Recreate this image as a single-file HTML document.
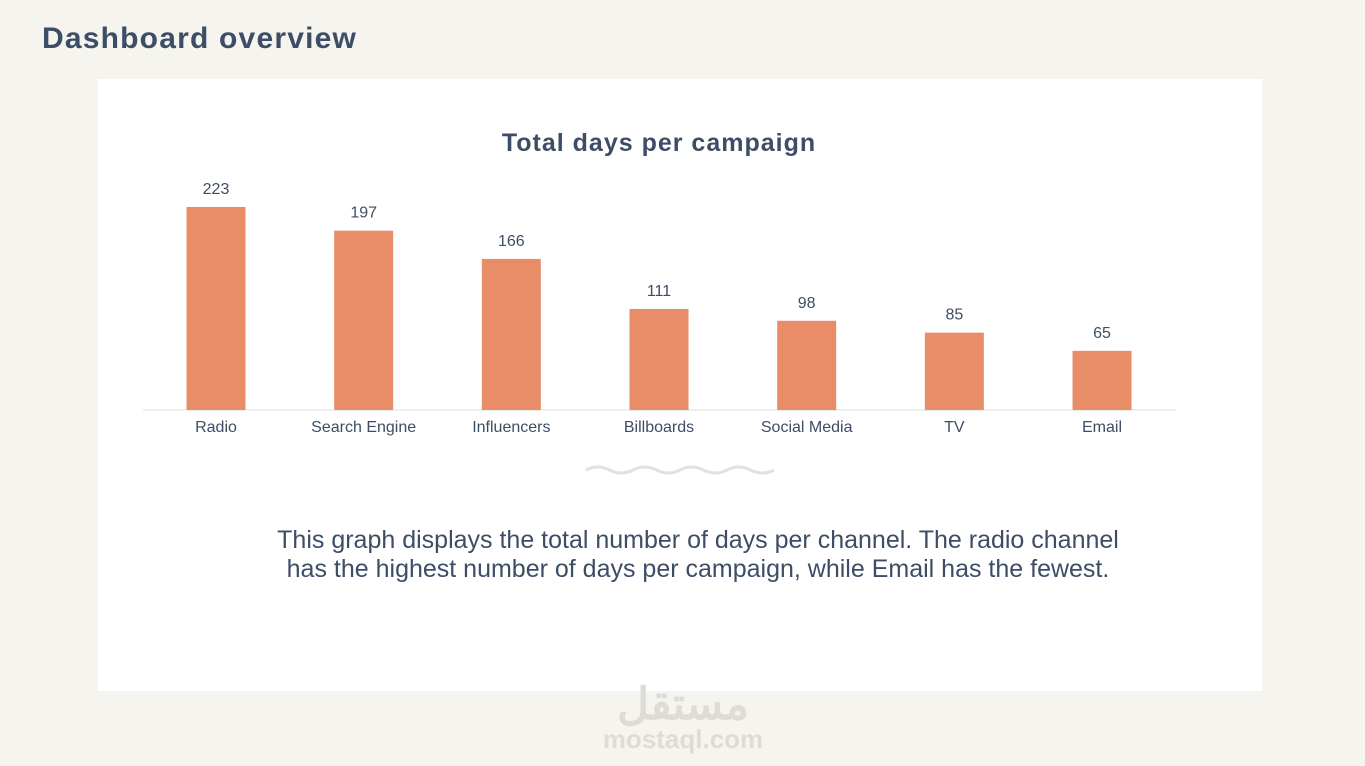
<!DOCTYPE html>
<html><head><meta charset="utf-8"><style>
body{margin:0;width:1365px;height:766px;background:#f5f4ef;font-family:"Liberation Sans",sans-serif;position:relative;overflow:hidden}
.h1{position:absolute;left:42px;top:22px;font-size:30px;font-weight:bold;color:#3d4d66;letter-spacing:1.2px}
.card{position:absolute;left:98px;top:79px;width:1164px;height:612px;background:#fff}
.desc{position:absolute;top:526px;text-align:center;font-size:25px;line-height:29px;color:#3d4d66}
.wm{position:absolute;left:600px;color:#dedcd6;font-weight:bold;text-align:center;width:166px}
</style></head><body>
<div class="h1">Dashboard overview</div>
<div class="card"></div>
<svg id="chart" width="1365" height="766" style="position:absolute;left:0;top:0">
<text x="659" y="151" text-anchor="middle" font-size="25" font-weight="bold" letter-spacing="1" fill="#3d4d66" font-family="Liberation Sans">Total days per campaign</text>
<line x1="143" y1="410" x2="1176" y2="410" stroke="#dcdcdc" stroke-width="1"/>
<path d="M586 470 q11.75 -6 23.5 0 t23.5 0 t23.5 0 t23.5 0 t23.5 0 t23.5 0 t23.5 0 t23.5 0" fill="none" stroke="#e3e1db" stroke-width="3"/>
</svg>
<div class="desc" style="left:98px;width:1200px">This graph displays the total number of days per channel. The radio channel<br>has the highest number of days per campaign, while Email has the fewest.</div>
<div class="wm" style="top:668px;font-size:44px;font-family:'Noto Sans CJK SC',sans-serif">مستقل</div>
<div class="wm" style="top:724px;font-size:26px">mostaql.com</div>
<script>
const categories=["Radio","Search Engine","Influencers","Billboards","Social Media","TV","Email"];
const values=[223,197,166,111,98,85,65];
const svg=document.getElementById('chart');
const NS="http://www.w3.org/2000/svg";
const x0=216,step=147.67,base=410,scale=203/223,bw=59;
const xPos=i=>x0+i*step;
const yPos=v=>base-v*scale;
categories.forEach((c,i)=>{
  const r=document.createElementNS(NS,'rect');
  r.setAttribute('x',xPos(i)-bw/2);r.setAttribute('y',yPos(values[i]));
  r.setAttribute('width',bw);r.setAttribute('height',base-yPos(values[i]));
  r.setAttribute('fill','#e98c68');
  
  
  svg.appendChild(r);
  const t=document.createElementNS(NS,'text');
  t.setAttribute('x',xPos(i));t.setAttribute('y',yPos(values[i])-13);
  t.setAttribute('text-anchor','middle');t.setAttribute('font-size','16');t.setAttribute('fill','#3d4d66');
  t.textContent=values[i];
  
  
  svg.appendChild(t);
  const l=document.createElementNS(NS,'text');
  l.setAttribute('x',xPos(i));l.setAttribute('y',432);
  l.setAttribute('text-anchor','middle');l.setAttribute('font-size','16');l.setAttribute('fill','#3d4d66');
  l.textContent=c;
  
  
  svg.appendChild(l);
});
</script>
</body></html>
